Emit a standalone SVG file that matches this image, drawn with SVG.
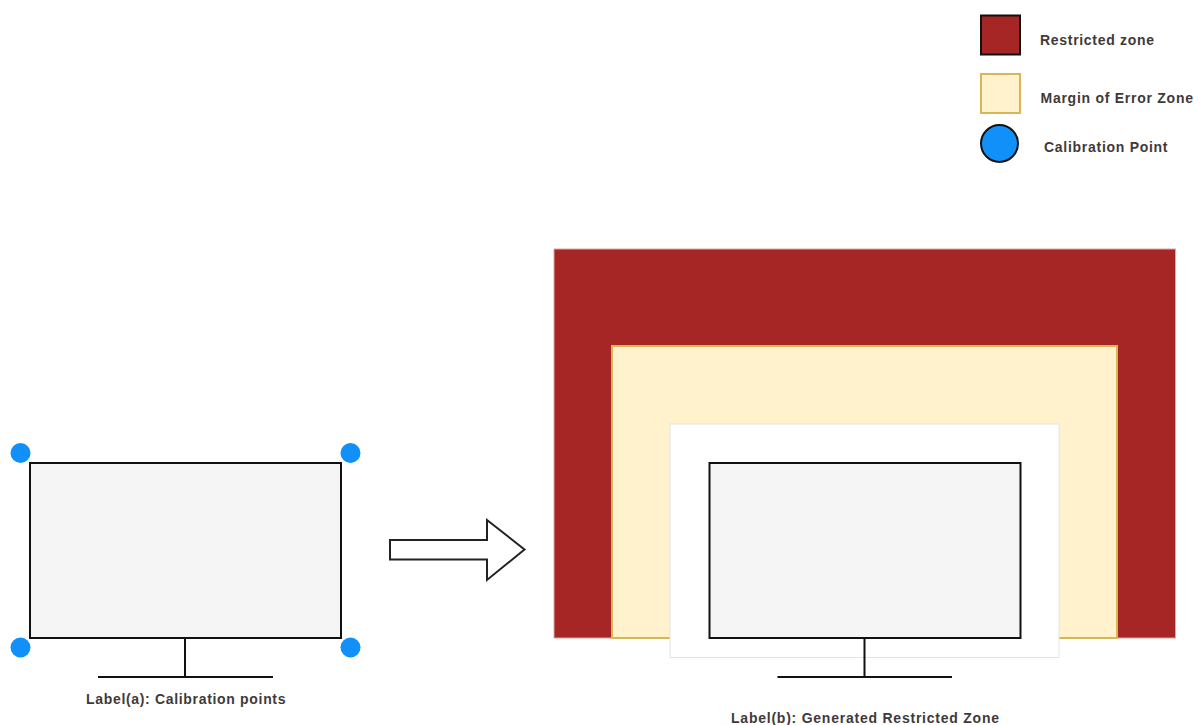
<svg xmlns="http://www.w3.org/2000/svg" width="1198" height="725" viewBox="0 0 1198 725">
<style>
.t{font-family:"Liberation Sans",Arial,sans-serif;font-size:14px;font-weight:700;fill:#3f3a3a;text-anchor:start}
.screen{fill:#f5f5f5;stroke:#111;stroke-width:2}
.line{fill:none;stroke:#111;stroke-width:2}
.pt{fill:#1090f8}
.red{fill:#a52624}
.cream{fill:#fff2cc;stroke:#d6b656;stroke-width:2}
</style>
<rect width="1198" height="725" fill="#fff"/>
<g id="legend-restricted"><rect class="red" x="981" y="15.500" width="39" height="39" stroke="#111" stroke-width="2"/><text class="t" x="1040" y="44.500" textLength="114">Restricted zone</text></g>
<g id="legend-margin"><rect class="cream" x="981" y="74" width="39" height="39"/><text class="t" x="1040.500" y="102.500" textLength="152.500">Margin of Error Zone</text></g>
<g id="legend-calibration"><circle class="pt" cx="999.500" cy="143.500" r="18.500" stroke="#111" stroke-width="2"/><text class="t" x="1044" y="152" textLength="123.500">Calibration Point</text></g>
<g id="monitor-a">
<rect class="screen" x="30" y="463" width="311" height="175"/>
<path class="line" d="M185 638V677M98 677H273"/>
</g>
<g id="calibration-points">
<circle class="pt" cx="20.500" cy="453" r="10"/><circle class="pt" cx="350.500" cy="453" r="10"/>
<circle class="pt" cx="20.500" cy="647.500" r="10"/><circle class="pt" cx="350.500" cy="647.500" r="10"/>
</g>
<g id="label-a"><text class="t" x="86" y="704" textLength="199.500">Label(a): Calibration points</text></g>
<g id="connectors"><path id="arrow" d="M390 540H487V520L524.500 549.500L487 580V559.500H390Z" fill="#fff" stroke="#222" stroke-width="2"/></g>
<g id="zone-restricted"><rect class="red" x="554" y="249" width="621.500" height="389" stroke="#d9a9a8" stroke-width="1"/></g>
<g id="zone-margin"><rect class="cream" x="612" y="346" width="505" height="292"/></g>
<g id="zone-clear"><rect x="670" y="424" width="389" height="233.500" fill="#fff" stroke="#e4e4e4" stroke-width="1"/></g>
<g id="monitor-b">
<rect class="screen" x="709.500" y="463" width="311" height="175"/>
<path class="line" d="M864.500 638V677M777.500 677H952"/>
</g>
<g id="label-b"><text class="t" x="731" y="723" textLength="268">Label(b): Generated Restricted Zone</text></g>
</svg>
